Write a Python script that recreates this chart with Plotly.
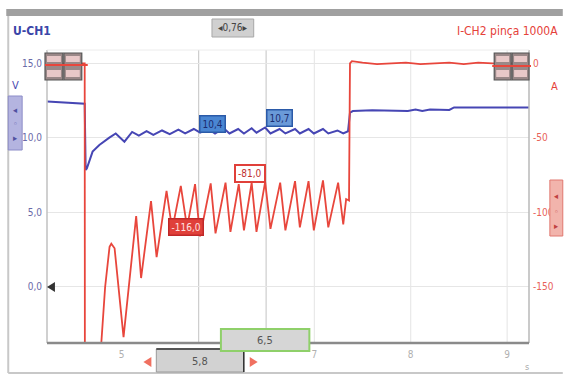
import plotly.graph_objects as go

# ---------------- data ----------------
# Voltage channel U-CH1 (V)
u_time = [4.23, 4.40, 4.55, 4.618, 4.628, 4.64, 4.70, 4.77, 4.87, 4.94, 5.03, 5.11, 5.18,
          5.26, 5.33, 5.42, 5.50, 5.59, 5.66, 5.75, 5.815, 5.90, 5.97, 6.06, 6.12, 6.21,
          6.27, 6.35, 6.40, 6.49, 6.545, 6.64, 6.70, 6.80, 6.85, 6.94, 6.995, 7.09, 7.145,
          7.24, 7.30, 7.35, 7.37, 7.40, 7.60, 7.80, 7.97, 8.05, 8.12, 8.20, 8.40, 8.45,
          8.70, 9.00, 9.23]
u_values = [12.45, 12.40, 12.35, 12.30, 7.85, 7.95, 9.08, 9.53, 10.0, 10.30, 9.75, 10.40,
            10.15, 10.45, 10.20, 10.50, 10.25, 10.55, 10.30, 10.60, 10.35, 10.60, 10.30,
            10.65, 10.30, 10.60, 10.30, 10.65, 10.35, 10.70, 10.30, 10.60, 10.30, 10.60,
            10.30, 10.60, 10.30, 10.60, 10.30, 10.50, 10.30, 10.45, 11.70, 11.80, 11.85,
            11.85, 11.80, 11.90, 11.80, 11.90, 11.88, 12.05, 12.05, 12.05, 12.05]

# Current channel I-CH2 (A)
i_time = [4.23, 4.35, 4.50, 4.618, 4.622, 4.70, 4.79, 4.83, 4.876, 4.894, 4.928, 5.021,
          5.152, 5.203, 5.306, 5.364, 5.467, 5.526, 5.615, 5.68, 5.763, 5.815, 5.925,
          5.975, 6.079, 6.13, 6.216, 6.27, 6.35, 6.40, 6.49, 6.545, 6.646, 6.70, 6.80,
          6.85, 6.94, 6.995, 7.09, 7.145, 7.247, 7.30, 7.33, 7.36, 7.37, 7.39, 7.50,
          7.65, 7.80, 7.95, 8.10, 8.25, 8.40, 8.55, 8.70, 8.85, 9.00, 9.10, 9.23]
i_values = [0, 0, 0, 0, -400, -400, -188, -150, -123, -121, -124, -183.6,
            -102.5, -144, -92.4, -130, -85.6, -111.5, -82.2, -110, -81, -116, -80.5,
            -114, -80, -113, -81, -112, -80, -113, -79.5, -111, -80, -112, -79,
            -110, -79, -112, -78.5, -110, -80, -108, -91, -92, 0, 1.5, 0.5,
            -0.5, 0, 0.5, -0.5, 0, 0.5, -0.5, 0.5, 0, -0.5, 0.5, 0]

u_ticks = [0, 5, 10, 15]
u_tick_text = ["0,0", "5,0", "10,0", "15,0"]
i_ticks = [0, -50, -100, -150]
i_tick_text = ["0", "-50", "-100", "-150"]
t_ticks = [5, 7, 8, 9]
t_tick_text = ["5", "7", "8", "9"]
t_grid = [7, 8, 9]

cursor_t = [5.8, 6.5]
cursor_labels = ["5,8", "6,5"]
u_readouts = ["10,4", "10,7"]
i_readouts = ["-116,0", "-81,0"]
delta_label = "0,76"

# ---------------- figure ----------------
W, H = 566, 376
L, R, T, B = 47, 532, 50, 343
FONT = "Liberation Sans Narrow, DejaVu Sans Condensed, Liberation Sans, Arial, sans-serif"
BLUE = "#4646b4"
RED = "#e8463c"


def px(x):
    return (x - L) / (R - L)


def py(y):
    return (B - y) / (B - T)


fig = go.Figure()
fig.add_trace(go.Scatter(x=u_time, y=u_values, mode="lines",
                         line=dict(color=BLUE, width=2), name="U-CH1", yaxis="y"))
fig.add_trace(go.Scatter(x=i_time, y=i_values, mode="lines",
                         line=dict(color=RED, width=1.8), name="I-CH2", yaxis="y2"))

shapes = []
# outer frame
shapes.append(dict(type="rect", xref="paper", yref="paper", x0=px(6), x1=px(566),
                   y0=py(16), y1=py(9), fillcolor="#a0a0a0", line=dict(width=0), layer="below"))
shapes.append(dict(type="line", xref="paper", yref="paper", x0=px(8), x1=px(8),
                   y0=py(16), y1=py(373), line=dict(color="#c8c8c8", width=2)))
shapes.append(dict(type="line", xref="paper", yref="paper", x0=px(8), x1=px(566),
                   y0=py(373), y1=py(373), line=dict(color="#c8c8c8", width=2)))
# plot borders
shapes.append(dict(type="line", xref="paper", yref="paper", x0=0, x1=0, y0=0, y1=1,
                   line=dict(color="#c0c0c0", width=1.5)))
shapes.append(dict(type="line", xref="paper", yref="paper", x0=1, x1=1, y0=0, y1=1,
                   line=dict(color="#b8b8b8", width=1.5)))
shapes.append(dict(type="line", xref="paper", yref="paper", x0=0, x1=1, y0=1, y1=1,
                   line=dict(color="#ececec", width=1)))
shapes.append(dict(type="line", xref="paper", yref="paper", x0=0, x1=1, y0=0, y1=0,
                   line=dict(color="#8a8a8a", width=2.5)))
# grid
for g in t_grid:
    shapes.append(dict(type="line", xref="x", yref="paper", x0=g, x1=g, y0=0, y1=1,
                       line=dict(color="#e4e4e4", width=1), layer="below"))
# cursors
for c in cursor_t:
    shapes.append(dict(type="line", xref="x", yref="paper", x0=c, x1=c, y0=0, y1=1,
                       line=dict(color="#cdcdcd", width=1.2), layer="below"))

# channel marker boxes (top left / top right)
for (a, b) in [(45, 63), (64, 82), (497, 514), (515, 532)]:
    shapes.append(dict(type="rect", xref="paper", yref="paper", x0=px(a), x1=px(b),
                       y0=py(80), y1=py(53), fillcolor="#9a8888",
                       line=dict(color="#555555", width=1.2)))
    shapes.append(dict(type="rect", xref="paper", yref="paper", x0=px(a + 2), x1=px(b - 2),
                       y0=py(62), y1=py(56), fillcolor="#e8c8c8", line=dict(width=0)))
    shapes.append(dict(type="rect", xref="paper", yref="paper", x0=px(a + 2), x1=px(b - 2),
                       y0=py(77), y1=py(70), fillcolor="#e8c8c8", line=dict(width=0)))
shapes.append(dict(type="line", xref="paper", yref="paper", x0=px(45), x1=px(88),
                   y0=py(65), y1=py(65), line=dict(color=RED, width=2)))
shapes.append(dict(type="line", xref="paper", yref="paper", x0=px(495), x1=px(534),
                   y0=py(66), y1=py(66), line=dict(color=RED, width=2)))

# side control strips
shapes.append(dict(type="rect", xref="paper", yref="paper", x0=px(8), x1=px(22),
                   y0=py(150), y1=py(96), fillcolor="#b4b4e0", line=dict(color="#8c8cc8", width=1)))
shapes.append(dict(type="rect", xref="paper", yref="paper", x0=px(553), x1=px(566),
                   y0=py(236), y1=py(180), fillcolor="#f2b4ac", line=dict(color="#e07870", width=1)))

# zero marker triangle
shapes.append(dict(type="path", xref="paper", yref="paper",
                   path=f"M {px(47)} {py(287)} L {px(55)} {py(282)} L {px(55)} {py(292)} Z",
                   fillcolor="#333333", line=dict(width=0)))

# bottom cursor boxes
shapes.append(dict(type="rect", xref="paper", yref="paper", x0=px(157), x1=px(245),
                   y0=py(372), y1=py(349), fillcolor="#d2d2d2", line=dict(color="#9a9a9a", width=1)))
shapes.append(dict(type="line", xref="paper", yref="paper", x0=px(157), x1=px(245),
                   y0=py(349), y1=py(349), line=dict(color="#555555", width=2)))
shapes.append(dict(type="line", xref="paper", yref="paper", x0=px(245), x1=px(245),
                   y0=py(372), y1=py(350), line=dict(color="#333333", width=1.5)))
shapes.append(dict(type="rect", xref="paper", yref="paper", x0=px(222), x1=px(311),
                   y0=py(351), y1=py(329), fillcolor="#d6d6d6", line=dict(color="#8fd06a", width=2)))
for cx, d in [(149, 1), (254, -1)]:
    shapes.append(dict(type="path", xref="paper", yref="paper",
                       path=f"M {px(cx - 5 * d)} {py(362)} L {px(cx + 3 * d)} {py(357)} "
                            f"L {px(cx + 3 * d)} {py(367)} Z",
                       fillcolor="#f07060", line=dict(width=0)))
# top delta box
shapes.append(dict(type="rect", xref="paper", yref="paper", x0=px(213), x1=px(255),
                   y0=py(37), y1=py(19), fillcolor="#d0d0d0", line=dict(color="#a8a8a8", width=1)))

annotations = []


def ann(x, y, text, color, size=11, xanchor="center", **kw):
    annotations.append(dict(xref="paper", yref="paper", x=px(x), y=py(y), text=text,
                            showarrow=False, xanchor=xanchor, yanchor="middle",
                            font=dict(family=FONT, size=size, color=color), **kw))


ann(11, 31, "<b>U-CH1</b>", "#3a46a8", 12, "left")
ann(563, 31, "I-CH2 pinça 1000A", "#e5413a", 12, "right")
ann(15, 85, "V", "#4a4ab0", 11)
ann(558, 86, "A", "#e5413a", 11)
ann(15, 110, "◂", "#5050a0", 9)
ann(15, 124, "◦", "#5050a0", 9)
ann(15, 138, "▸", "#5050a0", 9)
ann(560, 196, "◂", "#c04040", 9)
ann(560, 212, "◦", "#c04040", 9)
ann(560, 226, "▸", "#c04040", 9)
ann(234, 28, "◂" + delta_label + "▸", "#444444", 10)
ann(201, 361, cursor_labels[0], "#555555", 11)
ann(266, 340, cursor_labels[1], "#555555", 11)
ann(530, 367, "s", "#aaaaaa", 9)

# readouts at the cursors
annotations.append(dict(xref="x", yref="y", x=cursor_t[0], y=10.95, text=u_readouts[0],
                        showarrow=False, xanchor="left", yanchor="middle",
                        font=dict(family=FONT, size=10, color="#1c2c70"),
                        bgcolor="#4a86d2", bordercolor="#2b5aa8", borderwidth=1.5, borderpad=2))
annotations.append(dict(xref="x", yref="y", x=cursor_t[1], y=11.35, text=u_readouts[1],
                        showarrow=False, xanchor="left", yanchor="middle",
                        font=dict(family=FONT, size=10, color="#1c2c70"),
                        bgcolor="#6a9ad8", bordercolor="#2b5aa8", borderwidth=1.5, borderpad=2))
annotations.append(dict(xref="x", yref="y2", x=cursor_t[0], y=-110, text=i_readouts[0],
                        showarrow=False, xanchor="right", yanchor="middle", xshift=5,
                        font=dict(family=FONT, size=10, color="#ffe0e0"),
                        bgcolor="#e0403a", bordercolor="#c02828", borderwidth=1.5, borderpad=2))
annotations.append(dict(xref="x", yref="y2", x=cursor_t[1], y=-74, text=i_readouts[1],
                        showarrow=False, xanchor="right", yanchor="middle",
                        font=dict(family=FONT, size=10, color="#c03030"),
                        bgcolor="#ffffff", bordercolor="#e0403a", borderwidth=2, borderpad=2))

fig.update_layout(
    width=W, height=H,
    margin=dict(l=L, r=W - R, t=T, b=H - B),
    paper_bgcolor="white", plot_bgcolor="white",
    showlegend=False,
    shapes=shapes, annotations=annotations,
    xaxis=dict(range=[4.227, 9.227], tickvals=t_ticks, ticktext=t_tick_text,
               showgrid=False, zeroline=False, showline=False,
               ticks="outside", ticklen=2, tickcolor="rgba(0,0,0,0)",
               tickfont=dict(family=FONT, size=10, color="#b0b0b0")),
    yaxis=dict(range=[-3.76, 15.9], tickvals=u_ticks, ticktext=u_tick_text,
               showgrid=True, gridcolor="#e6e6e6", gridwidth=1, zeroline=False,
               showline=False, ticks="outside", ticklen=2, tickcolor="rgba(0,0,0,0)",
               tickfont=dict(family=FONT, size=10, color="#6a6aa8")),
    yaxis2=dict(range=[-187.6, 9.0], overlaying="y", side="right",
                tickvals=i_ticks, ticktext=i_tick_text, showgrid=False, zeroline=False,
                showline=False, ticks="outside", ticklen=1, tickcolor="rgba(0,0,0,0)",
                tickfont=dict(family=FONT, size=10, color="#e8625a")),
)

fig.write_html("out.html", config={"displayModeBar": False},
               post_script="document.body.style.margin='0';document.body.style.overflow='hidden';")
